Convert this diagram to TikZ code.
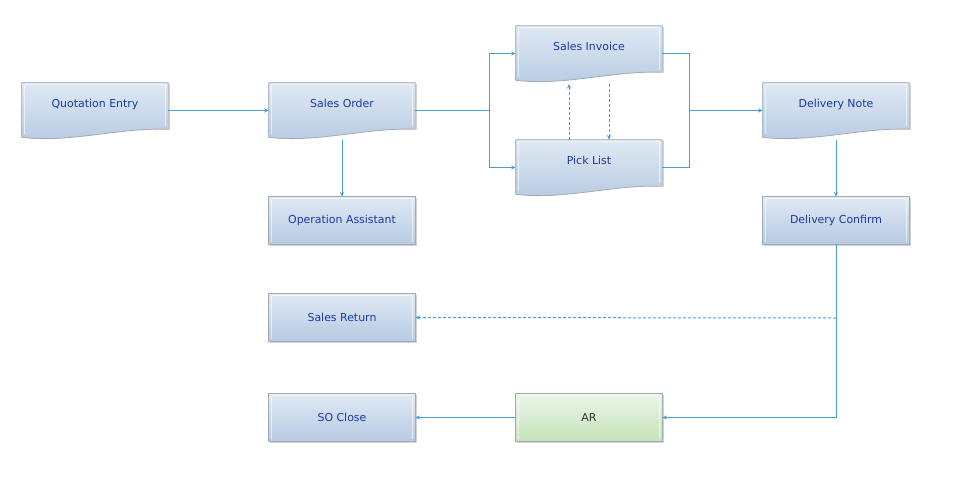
\documentclass[tikz,border=0pt]{standalone}
\usepackage{fontspec}
\setmainfont{DejaVu Sans}
\usetikzlibrary{arrows.meta,calc}
\pgfdeclarelayer{background}
\pgfsetlayers{background,main}
\definecolor{boxtop}{HTML}{E0E9F4}
\definecolor{boxbot}{HTML}{B6CAE2}
\definecolor{boxedge}{HTML}{A3ABB3}
\definecolor{grtop}{HTML}{EBF6E8}
\definecolor{grbot}{HTML}{C4E2BA}
\definecolor{txtblue}{HTML}{1A3AA6}
\definecolor{linec}{HTML}{4A9DD8}
\tikzset{
  x=0.75pt, y=-0.75pt,
  boxbase/.style={minimum width=109.5pt, inner sep=0pt, text=txtblue, font=\fontsize{8.2}{9}\selectfont},
  docbox/.style={boxbase, minimum height=41.25pt, text height=5.5pt, text depth=9.3pt},
  rectbox/.style={boxbase, minimum height=35.25pt},
  conn/.style={draw=linec, line width=0.75pt, -{Stealth[length=3.5pt,width=3pt]}},
  plain/.style={draw=linec, line width=0.75pt},
  dashconn/.style={conn, dash pattern=on 2.25pt off 1.5pt},
  blueshade/.style={top color=boxtop, bottom color=boxbot, draw=boxedge, line width=0.6pt},
  greenshade/.style={top color=grtop, bottom color=grbot, draw=boxedge, line width=0.6pt},
  bevel/.style={draw=white, opacity=0.6, line width=0.6pt},
  shadowc/.style={draw=gray!35, line width=1pt},
}
\newcommand\docshape[1]{%
  \draw[shadowc] ($(#1.north east)+(1.5,1)$) -- ($(#1.south east)+(1.5,-8)$);
  \path[blueshade] (#1.north west) -- (#1.north east) -- ($(#1.south east)+(0,-9)$)
    .. controls ($(#1.south east)+(-48,-11)$) and ($(#1.south west)+(48,5)$) .. ($(#1.south west)+(0,-1)$) -- cycle;
  \draw[bevel] ($(#1.north west)+(3,2)$) -- ($(#1.north east)+(-3,2)$);
  \draw[bevel] ($(#1.north west)+(3,2)$) -- ($(#1.south west)+(3,-4)$);
  \draw[bevel] ($(#1.north east)+(-3,2)$) -- ($(#1.south east)+(-3,-12)$);
}
\newcommand\rectshape[2]{%
  \draw[shadowc] ($(#1.north east)+(1.5,1)$) -- ($(#1.south east)+(1.5,1.5)$) -- ($(#1.south west)+(1,1.5)$);
  \path[#2] (#1.north west) rectangle (#1.south east);
  \draw[bevel] ($(#1.north west)+(3,2)$) -- ($(#1.north east)+(-3,2)$);
  \draw[bevel] ($(#1.north west)+(3,2)$) -- ($(#1.south west)+(3,-2)$);
  \draw[bevel] ($(#1.north east)+(-3,2)$) -- ($(#1.south east)+(-3,-2)$);
}
\begin{document}
\begin{tikzpicture}
\useasboundingbox (0,0) rectangle (953,486);
% nodes
\node[docbox] (qe) at (95,110.5) {Quotation Entry};
\node[docbox] (so) at (342,110.5) {Sales Order};
\node[rectbox] (oa) at (342,220.5) {Operation Assistant};
\node[docbox] (si) at (589,53.5) {Sales Invoice};
\node[docbox] (pl) at (589,167.5) {Pick List};
\node[docbox] (dn) at (836,110.5) {Delivery Note};
\node[rectbox] (dc) at (836,220.5) {Delivery Confirm};
\node[rectbox] (sr) at (342,317.5) {Sales Return};
\node[rectbox] (sc) at (342,417.5) {SO Close};
\node[rectbox, text=black!80] (ar) at (589,417.5) {AR};
\begin{pgfonlayer}{background}
\fill[white] (0,0) rectangle (953,486);
\docshape{qe}\docshape{so}\docshape{si}\docshape{pl}\docshape{dn}
\rectshape{oa}{blueshade}\rectshape{dc}{blueshade}\rectshape{sr}{blueshade}
\rectshape{sc}{blueshade}\rectshape{ar}{greenshade}
\end{pgfonlayer}
% junctions
\coordinate (jl) at (489,110.5);
\coordinate (jr) at (689,110.5);
\coordinate (jd) at (836,318);
% connectors
\draw[conn] (qe.east) -- (so.west);
\draw[conn] ([yshift=-1.5pt]so.south) -- (oa.north);
\draw[plain] (so.east) -- (jl);
\draw[conn] (jl) |- (si.west);
\draw[conn] (jl) |- (pl.west);
\draw[plain] (si.east) -| (jr);
\draw[plain] (pl.east) -| (jr);
\draw[conn] (jr) -- (dn.west);
\draw[dashconn] ([xshift=-15pt]pl.north) -- ([xshift=-15pt,yshift=-2pt]si.south);
\draw[dashconn] ([xshift=15pt,yshift=-2pt]si.south) -- ([xshift=15pt]pl.north);
\draw[conn] ([yshift=-1.5pt]dn.south) -- (dc.north);
\draw[conn] (dc.south) |- (ar.east);
\draw[dashconn] (jd) -- (sr.east);
\draw[conn] (ar.west) -- (sc.east);
\end{tikzpicture}
\end{document}
